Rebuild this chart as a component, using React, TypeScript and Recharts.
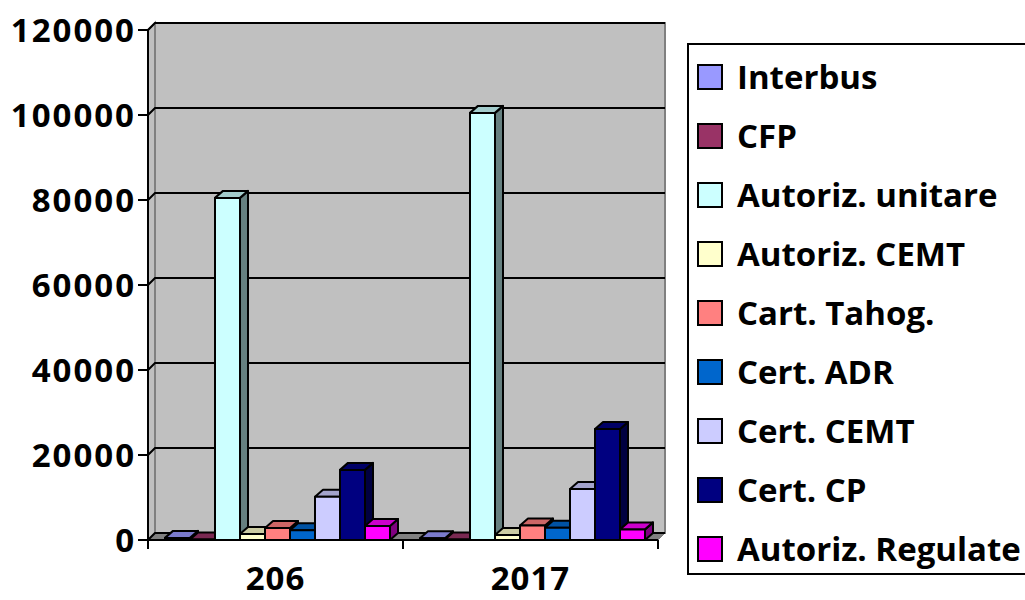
import React from 'react';
import { BarChart, Bar, XAxis, YAxis, CartesianGrid, Legend } from 'recharts';

// categories as printed on the original chart
const years = ['206', '2017'];

const seriesNames = [
  'Interbus',
  'CFP',
  'Autoriz. unitare',
  'Autoriz. CEMT',
  'Cart. Tahog.',
  'Cert. ADR',
  'Cert. CEMT',
  'Cert. CP',
  'Autoriz. Regulate',
];

const seriesColors = [
  '#9999FF',
  '#993366',
  '#CCFFFF',
  '#FFFFCC',
  '#FF8080',
  '#0066CC',
  '#CCCCFF',
  '#000080',
  '#FF00FF',
];

const interbus = [500, 400];
const cfp = [100, 100];
const autorizUnitare = [80500, 100500];
const autorizCemt = [1400, 1200];
const cartTahog = [2800, 3400];
const certAdr = [2300, 2900];
const certCemt = [10200, 12000];
const certCp = [16500, 26100];
const autorizRegulate = [3300, 2500];

const yTicks = [0, 20000, 40000, 60000, 80000, 100000, 120000];

const seriesValues = [
  interbus,
  cfp,
  autorizUnitare,
  autorizCemt,
  cartTahog,
  certAdr,
  certCemt,
  certCp,
  autorizRegulate,
];

const data = years.map((year, i) => {
  const row: Record<string, string | number> = { year };
  seriesNames.forEach((name, s) => {
    row[`s${s}`] = seriesValues[s][i];
  });
  return row;
});

const FONT = '"Open Sans", sans-serif';
const WALL_D = 7; // depth of the back wall
const BAR_DX = 8;
const BAR_DY = 7;

function shade(hex: string, k: number): string {
  const n = parseInt(hex.slice(1), 16);
  const r = Math.round(((n >> 16) & 255) * k);
  const g = Math.round(((n >> 8) & 255) * k);
  const b = Math.round((n & 255) * k);
  return `rgb(${r},${g},${b})`;
}

// 3D column: front face, top face and right side
function Box3D(props: any) {
  const { x, y, width: w, height: h, fill } = props;
  if (x == null || y == null) return null;
  const top = `M${x},${y} L${x + BAR_DX},${y - BAR_DY} L${x + w + BAR_DX},${y - BAR_DY} L${x + w},${y} Z`;
  const side = `M${x + w},${y} L${x + w + BAR_DX},${y - BAR_DY} L${x + w + BAR_DX},${y + h - BAR_DY} L${x + w},${y + h} Z`;
  return (
    <g stroke="#000" strokeWidth={2} strokeLinejoin="round">
      <path d={side} fill={shade(fill, 0.5)} />
      <path d={top} fill={shade(fill, 0.8)} />
      <rect x={x} y={y} width={w} height={Math.max(h, 0)} fill={fill} />
    </g>
  );
}

// gridline on the back wall; the first one also paints walls and floor
function WallLine(props: any) {
  const { x1, y1, x2, index, x, y, width, height } = props;
  const d = WALL_D;
  return (
    <g key={`wl-${index}`}>
      {index === 0 && (
        <g>
          <rect x={x + d} y={y - d} width={width} height={height} fill="#C0C0C0" stroke="#808080" strokeWidth={2} />
          <path
            d={`M${x},${y + height} L${x + d},${y + height - d} L${x + d},${y - d} L${x},${y} Z`}
            fill="#C0C0C0"
            stroke="#808080"
            strokeWidth={2}
          />
          <path
            d={`M${x},${y + height} L${x + width},${y + height} L${x + width + d},${y + height - d} L${x + d},${y + height - d} Z`}
            fill="#808080"
            stroke="#808080"
            strokeWidth={1}
          />
        </g>
      )}
      <path d={`M${x1},${y1} L${x1 + d},${y1 - d} L${x2 + d},${y1 - d}`} fill="none" stroke="#000" strokeWidth={2} />
    </g>
  );
}

function XTick(props: any) {
  const { x, y, payload } = props;
  const off = payload?.offset ?? 127.5;
  return (
    <g>
      <line x1={x - off} y1={y} x2={x - off} y2={y + 9} stroke="#000" strokeWidth={2} />
      <line x1={x + off} y1={y} x2={x + off} y2={y + 9} stroke="#000" strokeWidth={2} />
      <text
        x={x}
        y={y + 50}
        textAnchor="middle"
        fontFamily={FONT}
        fontWeight={700}
        fontSize={33}
        letterSpacing={1}
        fill="#000"
      >
        {payload.value}
      </text>
    </g>
  );
}

function LegendBox(props: any) {
  const payload = [...(props.payload || [])].sort(
    (a: any, b: any) => seriesNames.indexOf(a.value) - seriesNames.indexOf(b.value)
  );
  return (
    <div
      style={{
        border: '2px solid #000',
        background: '#fff',
        width: 345,
        height: 532,
        boxSizing: 'border-box',
        paddingTop: 2,
      }}
    >
      {payload.map((p: any, i: number) => (
        <div key={i} style={{ height: 59, display: 'flex', alignItems: 'center' }}>
          <div
            style={{
              width: 22,
              height: 22,
              marginLeft: 8,
              marginRight: 14,
              border: '2px solid #000',
              background: p.color,
            }}
          />
          <span style={{ fontFamily: FONT, fontWeight: 700, fontSize: 33, color: '#000', whiteSpace: 'nowrap' }}>
            {p.value}
          </span>
        </div>
      ))}
    </div>
  );
}

export default function App() {
  return (
    <div style={{ position: 'absolute', left: 0, top: 0, width: 1025, height: 600, overflow: 'hidden', background: '#fff' }}>
      <BarChart
        width={1025}
        height={600}
        data={data}
        margin={{ top: 30, right: 22, left: 0, bottom: 0 }}
        barCategoryGap={17}
        barGap={0}
      >
        <CartesianGrid vertical={false} horizontal={WallLine} />
        <XAxis
          dataKey="year"
          height={60}
          axisLine={{ stroke: '#000', strokeWidth: 2 }}
          tickLine={false}
          tickSize={0}
          tickMargin={0}
          tick={XTick}
          interval={0}
        />
        <YAxis
          domain={[0, 120000]}
          ticks={yTicks}
          width={148}
          interval={0}
          axisLine={{ stroke: '#000', strokeWidth: 2 }}
          tickLine={{ stroke: '#000', strokeWidth: 2 }}
          tickSize={10}
          tickMargin={2}
          tick={{ fontFamily: FONT, fontWeight: 700, fontSize: 33, fill: '#000', letterSpacing: 2 }}
        />
        <Legend
          layout="vertical"
          align="right"
          verticalAlign="top"
          content={LegendBox}
          wrapperStyle={{ position: 'absolute', left: 687, top: 43, width: 345 }}
        />
        {seriesNames.map((name, s) => (
          <Bar
            key={name}
            dataKey={`s${s}`}
            name={name}
            fill={seriesColors[s]}
            shape={Box3D}
            isAnimationActive={false}
          />
        ))}
      </BarChart>
    </div>
  );
}
